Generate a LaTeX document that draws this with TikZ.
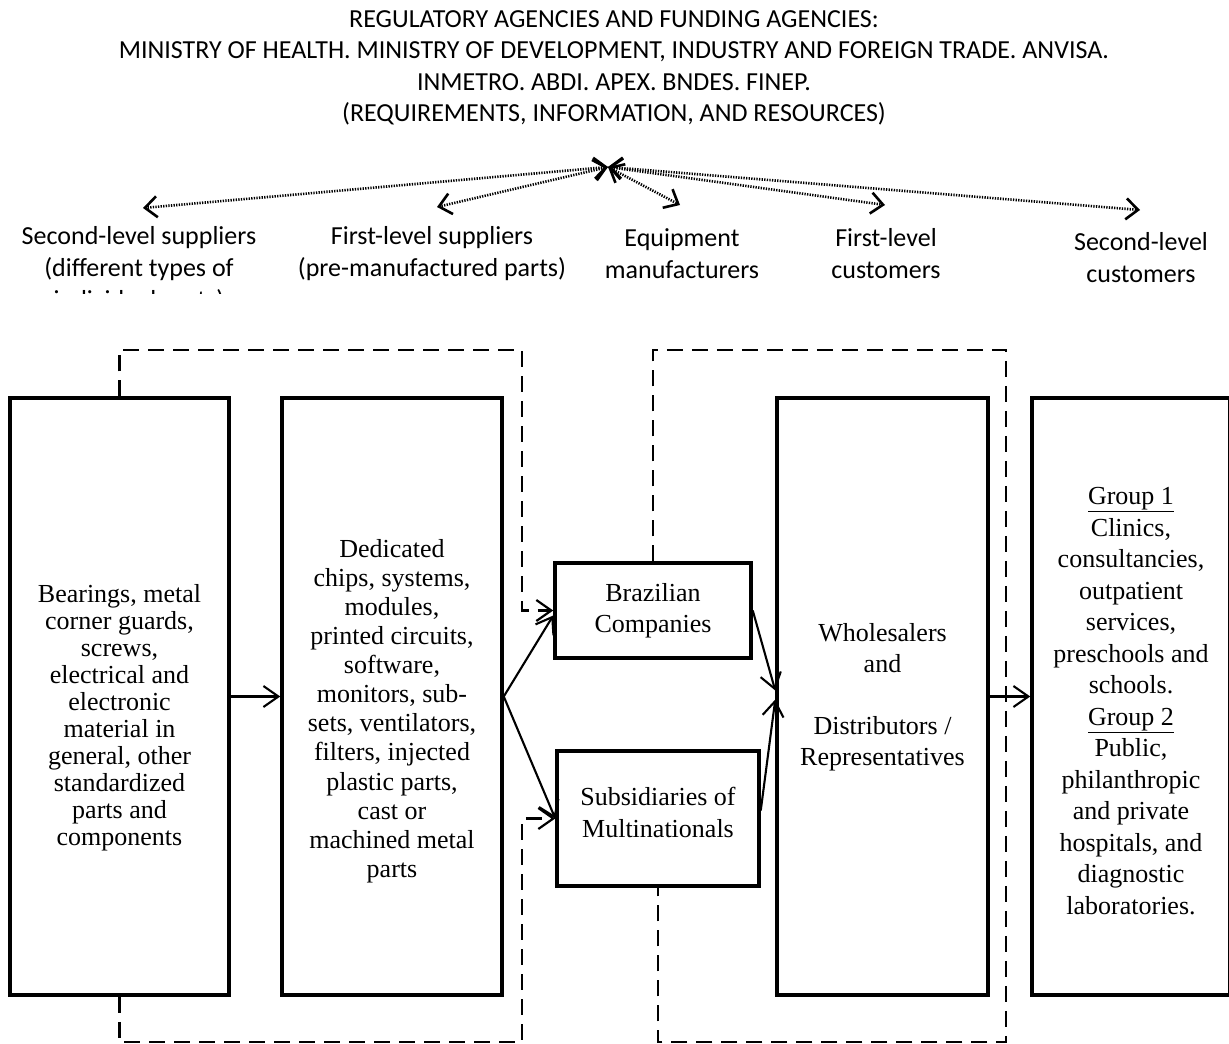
\documentclass[tikz,border=0pt]{standalone}
\usepackage{fontspec}
\setmainfont{Liberation Serif}
\newfontfamily\calibri{Carlito}
\usetikzlibrary{arrows.meta}

\begin{document}
\begin{tikzpicture}[x=1pt, y=-1pt,
  box/.style={draw, line width=3.5pt, inner sep=0pt},
  boxtext/.style={align=center, inner sep=0pt, font=\fontsize{26}{#1}\selectfont},
  boxtext/.default=31,
  lbl/.style={align=center, inner sep=0pt, font=\calibri\fontsize{26}{32}\selectfont},
  hdr/.style={align=center, inner sep=0pt, font=\calibri\fontsize{26}{31.5}\selectfont},
  flow/.style={line width=2.1pt, -{Straight Barb[length=15pt, width=21pt]}},
  backlink/.style={line width=2.2pt, dash pattern=on 16pt off 9pt, -{Straight Barb[length=15pt, width=21pt]}},
  backline/.style={line width=2.2pt, dash pattern=on 16pt off 9pt},
  info/.style={line width=2.6pt, dash pattern=on 1.3pt off 1.3pt, {Straight Barb[length=12pt, width=21pt]}-{Straight Barb[length=12pt, width=21pt]}}]
  \useasboundingbox (0,0) rectangle (1229,1044);
  \clip (0,0) rectangle (1229,1044);

  \node[hdr] (agencies) at (614,68) {REGULATORY AGENCIES AND FUNDING AGENCIES:\\MINISTRY OF HEALTH. MINISTRY OF DEVELOPMENT, INDUSTRY AND FOREIGN TRADE. ANVISA.\\INMETRO. ABDI. APEX. BNDES. FINEP.\\(REQUIREMENTS, INFORMATION, AND RESOURCES)};

  \begin{scope}
    \clip (0,0) rectangle (300,293);
    \node[lbl] (suppl2) at (139,270) {Second-level suppliers\\(different types of\\individual parts)};
  \end{scope}
  \node[lbl] (suppl1) at (432,254) {First-level suppliers\\(pre-manufactured parts)};
  \node[lbl] (makers) at (682,254) {Equipment\\manufacturers};
  \node[lbl] (cust1) at (886,254) {First-level\\customers};
  \node[lbl] (cust2) at (1141,258) {Second-level\\customers};

  \coordinate (hub) at (608,167);
  \coordinate (suppl2tip) at (143,208);
  \coordinate (suppl1tip) at (437,207);
  \coordinate (makerstip) at (680,205);
  \coordinate (cust1tip) at (885,205);
  \coordinate (cust2tip) at (1140,210);
  \draw[info] (hub) -- (suppl2tip);
  \draw[info] (hub) -- (suppl1tip);
  \draw[info] (hub) -- (makerstip);
  \draw[info] (hub) -- (cust1tip);
  \draw[info] (hub) -- (cust2tip);

  \node[box, minimum width=219pt, minimum height=597pt] (parts) at (119.5,696.5) {};
  \node[box, minimum width=220pt, minimum height=597pt] (modules) at (392,696.5) {};
  \node[box, minimum width=196pt, minimum height=95pt] (brazil) at (653,610.5) {};
  \node[box, minimum width=202pt, minimum height=135pt] (subsid) at (658,818.5) {};
  \node[box, minimum width=211pt, minimum height=597pt] (sellers) at (882.5,696.5) {};
  \node[box, minimum width=198pt, minimum height=597pt] (users) at (1131,696.5) {};

  \node[boxtext=27] (partstext) at (119.5,718) {Bearings, metal\\corner guards,\\screws,\\electrical and\\electronic\\material in\\general, other\\standardized\\parts and\\components};
  \node[boxtext=29.1] (modulestext) at (392,711) {Dedicated\\chips, systems,\\modules,\\printed circuits,\\software,\\monitors, sub-\\sets, ventilators,\\filters, injected\\plastic parts,\\cast or\\machined metal\\parts};
  \node[boxtext] (braziltext) at (653,611) {Brazilian\\Companies};
  \node[boxtext=32] (subsidtext) at (658,812) {Subsidiaries of\\Multinationals};
  \node[boxtext] (sellerstext) at (882.5,697) {Wholesalers\\and\\[31pt]Distributors /\\Representatives};
  \node[boxtext=31.5] (userstext) at (1131,701) {\underline{Group 1}\\Clinics,\\consultancies,\\outpatient\\services,\\preschools and\\schools.\\\underline{Group 2}\\Public,\\philanthropic\\and private\\hospitals, and\\diagnostic\\laboratories.};

  \draw[flow] (parts) -- (modules);
  \draw[flow] (modules.east) -- ([yshift=-5pt]brazil.west);
  \draw[flow] (modules.east) -- (subsid.west);
  \draw[flow] (brazil.east) -- ([yshift=6pt]sellers.west);
  \draw[flow] ([yshift=8pt]subsid.east) -- ([yshift=-3pt]sellers.west);
  \draw[flow] (sellers) -- (users);

  \draw[backlink] (parts.north) |- (522,350) |- (brazil.west);
  \draw[backlink] (parts.south) |- (522,1042) |- (subsid.west);
  \draw[backline] (brazil.north) |- (1006,350) |- (subsid.south |- 0,1042) -- (subsid.south);
\end{tikzpicture}
\end{document}
